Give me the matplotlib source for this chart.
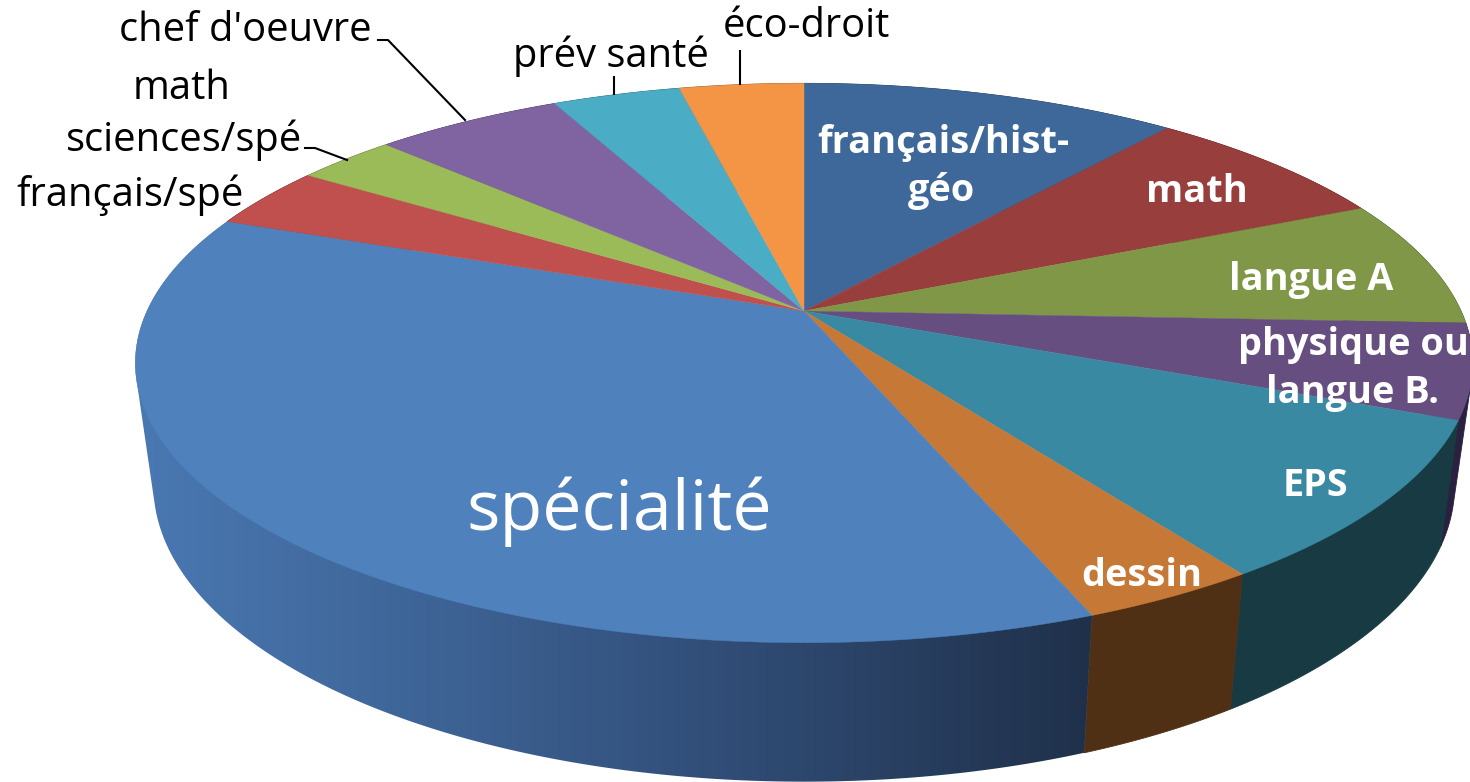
import numpy as np
import matplotlib
matplotlib.use("Agg")
import matplotlib.pyplot as plt
from matplotlib.colors import to_rgb
from matplotlib.patches import Polygon

# Data: shares of the pie (percent), clockwise from 12 o'clock
categories = ["français/hist-géo", "math", "langue A", "physique ou langue B.", "EPS", "dessin",
              "spécialité", "français/spé", "math sciences/spé", "chef d'oeuvre", "prév santé", "éco-droit"]
shares = [10.9, 7.4, 7.4, 5.45, 9.3, 3.65, 36.65, 3.6, 2.9, 5.45, 3.7, 3.6]
top_colors = ["#3e6899", "#983e3c", "#7f9746", "#674e80", "#3a89a2", "#c67936",
              "#4f81bd", "#c0504d", "#9bbb59", "#8064a2", "#4bacc6", "#f39545"]
side_colors = ["#24384f", "#4f1f1e", "#3e4a22", "#2a2040", "#183a42", "#4f3015",
               None, "#5f2726", "#4c5c2b", "#3f3150", "#245561", "#7a4a22"]

fig = plt.figure(figsize=(14.7, 7.82), dpi=100)
ax = fig.add_axes([0, 0, 1, 1])

# perspective model of the disc
CX, CY, RX, RY, K = 804, 311, 657, 270, 0.186


def top_rim(theta):
    x, y = np.sin(theta), np.cos(theta)
    w = 1 + K * y
    return CX + RX * x / w, CY - RY * y / w


def bottom_rim(theta):
    px, py = top_rim(theta)
    return CX + 0.973 * (px - CX), 782 - (643 - py) * 1.06


def hull(points):
    pts = sorted(set(map(tuple, points)))

    def half(seq):
        out = []
        for p in seq:
            while len(out) > 1 and ((out[-1][0] - out[-2][0]) * (p[1] - out[-2][1])
                                    - (out[-1][1] - out[-2][1]) * (p[0] - out[-2][0])) <= 0:
                out.pop()
            out.append(p)
        return out[:-1]

    return np.array(half(pts) + half(pts[::-1]))


fractions = np.array(shares) / np.sum(shares)
edges = 2 * np.pi * np.concatenate([[0], np.cumsum(fractions)])

grad_x = [140, 400, 700, 1095]
grad_c = np.array([to_rgb(c) for c in ["#4a78b2", "#3f6699", "#324f7a", "#1f3049"]])

# side wall
for i, col in enumerate(side_colors):
    th = np.linspace(edges[i], edges[i + 1], 200)
    xt, yt = top_rim(th)
    xb, yb = bottom_rim(th)
    xy = hull(np.column_stack([np.r_[xt, xb], np.r_[yt, yb]]))
    if col is None:
        xs = np.arange(130, 1100)
        img = np.stack([np.interp(xs, grad_x, grad_c[:, j]) for j in range(3)], axis=-1)[None, :, :]
        poly = Polygon(xy, closed=True, transform=ax.transData, facecolor="none", edgecolor="none")
        ax.add_patch(poly)
        im = ax.imshow(img, extent=(130, 1100, 790, 200), aspect="auto", zorder=2, interpolation="bilinear")
        im.set_clip_path(poly)
    else:
        ax.fill(xy[:, 0], xy[:, 1], color=col, lw=0.6, zorder=2)

# top face
for i, col in enumerate(top_colors):
    th = np.linspace(edges[i], edges[i + 1], 120)
    xr, yr = top_rim(th)
    ax.fill(np.r_[CX, xr], np.r_[CY, yr], color=col, lw=0.3, zorder=3)

ax.set_xlim(0, 1470)
ax.set_ylim(782, 0)
ax.axis("off")

# labels
fam = ["Open Sans", "DejaVu Sans"]
white_labels = [("français/hist-", 943, 143), ("géo", 942, 191), ("math", 1197, 192),
                ("langue A", 1311, 280), ("physique ou", 1353, 345), ("langue B.", 1353, 393),
                ("EPS", 1315, 486), ("dessin", 1142, 576)]
for s, x, y in white_labels:
    ax.text(x, y, s, color="white", fontsize=27.3, fontweight="bold", ha="center", va="center",
            family=fam, zorder=5)
ax.text(619, 512, "spécialité", color="white", fontsize=50.5, ha="center", va="center", family=fam, zorder=5)

black_labels = [("chef d'oeuvre", 245, 31), ("math", 182, 89), ("sciences/spé", 184, 140),
                ("français/spé", 130, 195), ("prév santé", 611, 56), ("éco-droit", 806, 27)]
for s, x, y in black_labels:
    ax.text(x, y, s, color="black", fontsize=28.7, ha="center", va="center", family=fam, zorder=5)

# leader lines
leaders = [([378, 388, 465], [40, 40, 120]), ([305, 315, 347], [148, 148, 160]),
           ([614, 614], [77, 94]), ([740, 740], [51, 84])]
for lx, ly in leaders:
    ax.plot(lx, ly, color="black", lw=1.5, zorder=4)

fig.savefig("out.png", dpi=100)
